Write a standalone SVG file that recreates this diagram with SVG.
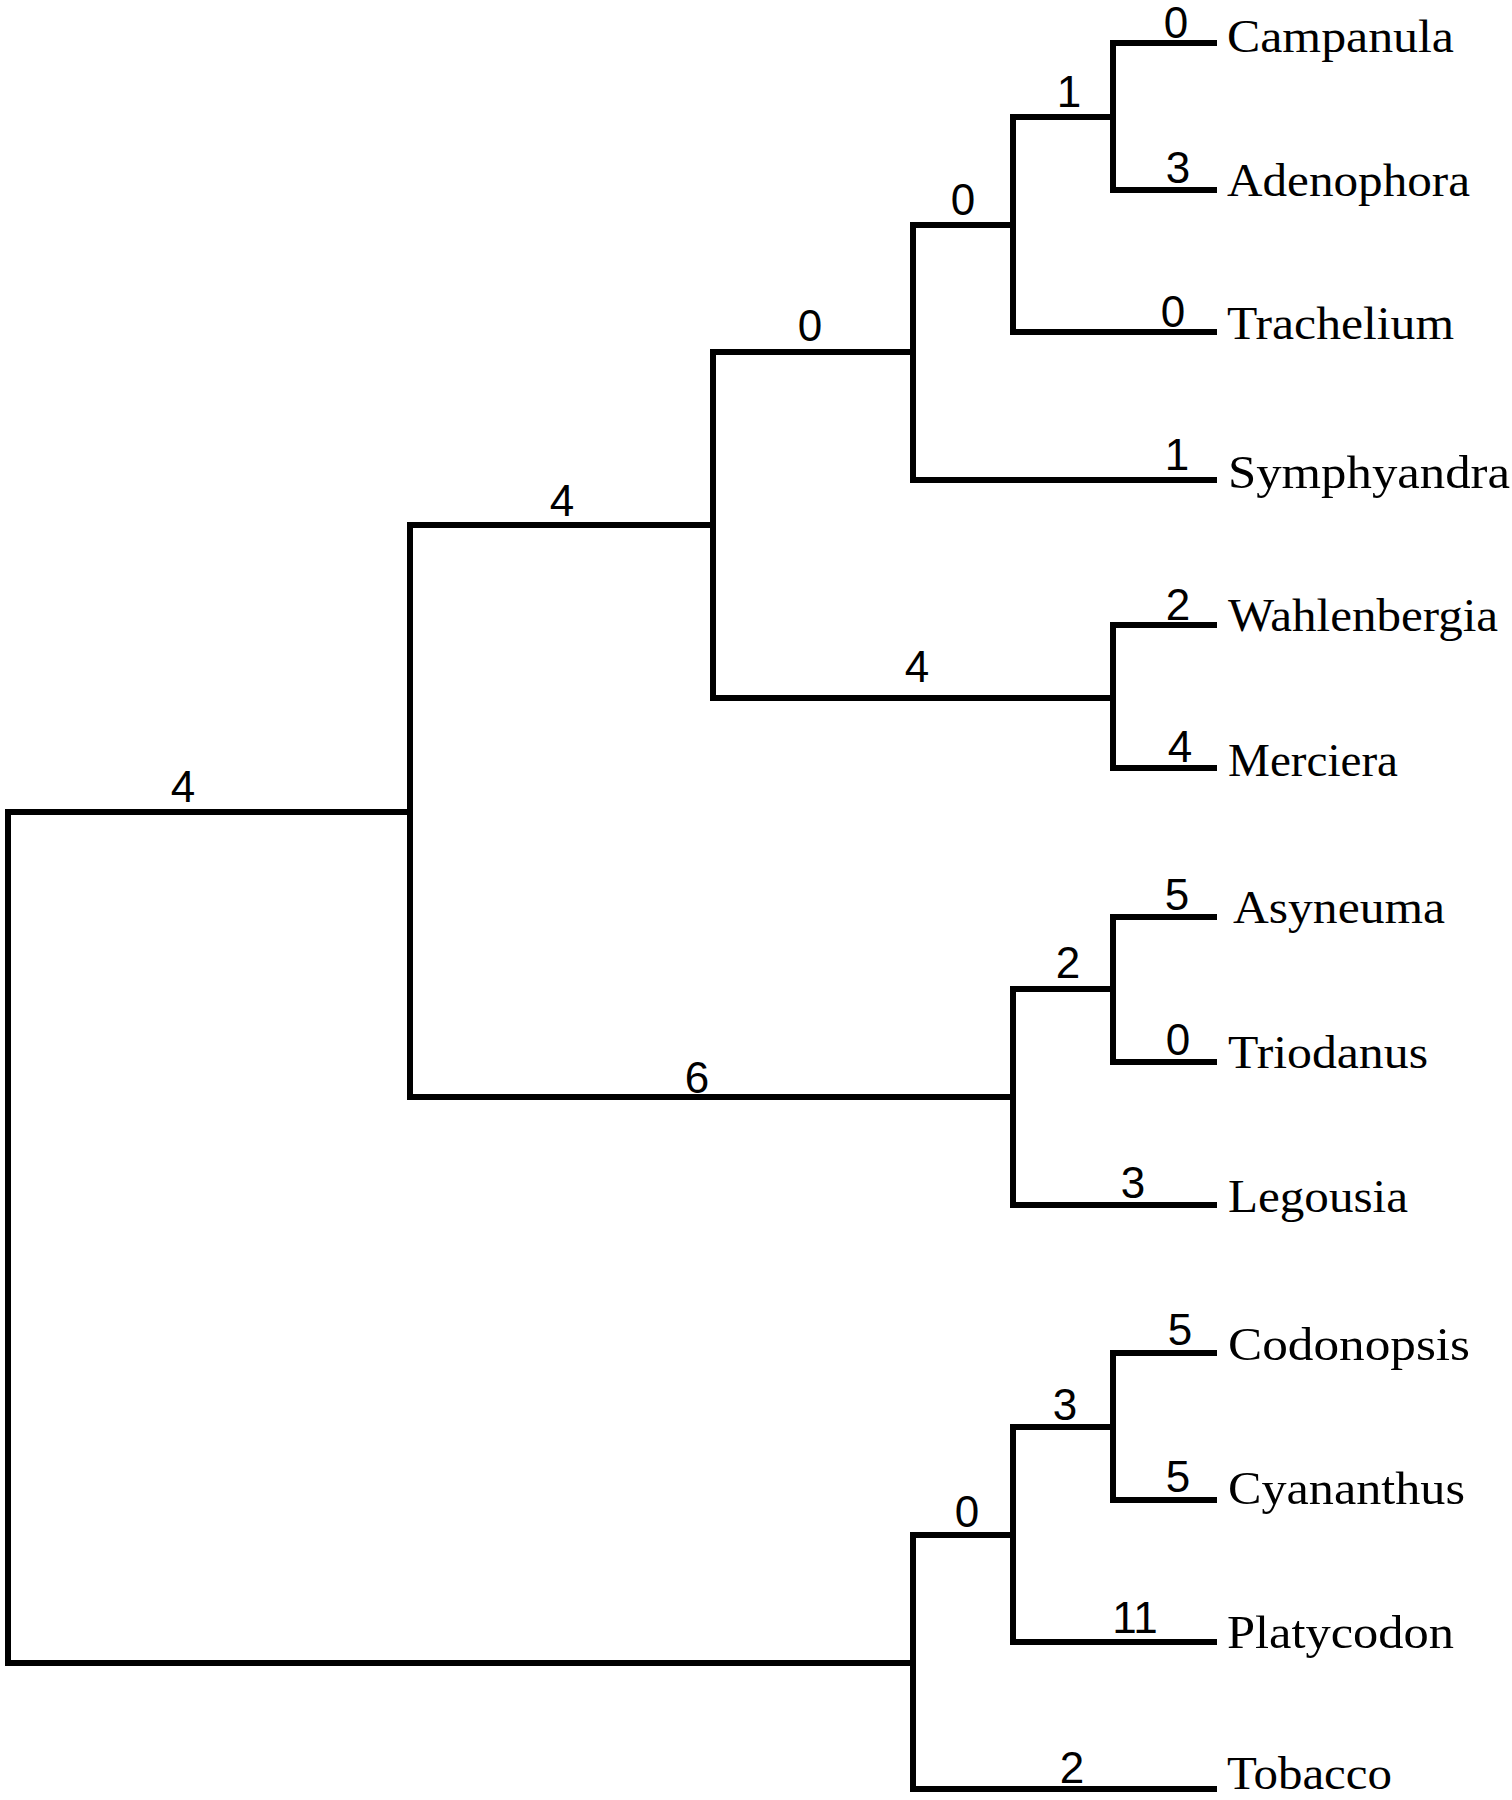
<svg xmlns="http://www.w3.org/2000/svg" width="1512" height="1800" viewBox="0 0 1512 1800">
<style>
.br{fill:none;stroke:#000;stroke-width:6;stroke-linecap:square;stroke-linejoin:miter}
.lf{font-family:"Liberation Serif","Times New Roman",serif;font-size:46px;fill:#000}
.bl{font-family:"Liberation Sans",Arial,sans-serif;font-size:44px;fill:#000;text-anchor:middle}
</style>
<rect width="1512" height="1800" fill="#fff"/>
<g id="connectors">
<path class="br" d="M410,812 H8 V1663 H913"/>
<path class="br" d="M713,525 H410 V1097 H1013"/>
<path class="br" d="M913,352 H713 V698 H1113"/>
<path class="br" d="M1013,225 H913 V480 H1214"/>
<path class="br" d="M1113,117 H1013 V332 H1214"/>
<path class="br" d="M1214,43 H1113 V190 H1214"/>
<path class="br" d="M1214,625 H1113 V768 H1214"/>
<path class="br" d="M1113,989 H1013 V1205 H1214"/>
<path class="br" d="M1214,917 H1113 V1062 H1214"/>
<path class="br" d="M1013,1535 H913 V1789 H1214"/>
<path class="br" d="M1113,1427 H1013 V1642 H1214"/>
<path class="br" d="M1214,1353 H1113 V1500 H1214"/>
</g>
<g id="branch-labels">
<text class="bl" x="183" y="802">4</text>
<text class="bl" x="562" y="516">4</text>
<text class="bl" x="810" y="341">0</text>
<text class="bl" x="963" y="215">0</text>
<text class="bl" x="1069" y="107">1</text>
<text class="bl" x="917" y="682">4</text>
<text class="bl" x="697" y="1093">6</text>
<text class="bl" x="1068" y="978">2</text>
<text class="bl" x="967" y="1527">0</text>
<text class="bl" x="1065" y="1420">3</text>
<text class="bl" x="1176" y="38" font-size="40">0</text>
<text class="bl" x="1178" y="183">3</text>
<text class="bl" x="1173" y="327">0</text>
<text class="bl" x="1177" y="470">1</text>
<text class="bl" x="1178" y="620">2</text>
<text class="bl" x="1180" y="762">4</text>
<text class="bl" x="1177" y="910">5</text>
<text class="bl" x="1178" y="1055">0</text>
<text class="bl" x="1133" y="1198">3</text>
<text class="bl" x="1180" y="1345">5</text>
<text class="bl" x="1178" y="1492">5</text>
<text class="bl" x="1135" y="1633">11</text>
<text class="bl" x="1072" y="1783">2</text>
</g>
<g id="leaf-campanula"><text class="lf" x="1227" y="52" textLength="227" lengthAdjust="spacingAndGlyphs">Campanula</text></g>
<g id="leaf-adenophora"><text class="lf" x="1227" y="196" textLength="243" lengthAdjust="spacingAndGlyphs">Adenophora</text></g>
<g id="leaf-trachelium"><text class="lf" x="1227" y="339" textLength="227" lengthAdjust="spacingAndGlyphs">Trachelium</text></g>
<g id="leaf-symphyandra"><text class="lf" x="1228" y="488" textLength="282" lengthAdjust="spacingAndGlyphs">Symphyandra</text></g>
<g id="leaf-wahlenbergia"><text class="lf" x="1228" y="631" textLength="270" lengthAdjust="spacingAndGlyphs">Wahlenbergia</text></g>
<g id="leaf-merciera"><text class="lf" x="1228" y="776" textLength="170" lengthAdjust="spacingAndGlyphs">Merciera</text></g>
<g id="leaf-asyneuma"><text class="lf" x="1233" y="923" textLength="212" lengthAdjust="spacingAndGlyphs">Asyneuma</text></g>
<g id="leaf-triodanus"><text class="lf" x="1228" y="1068" textLength="200" lengthAdjust="spacingAndGlyphs">Triodanus</text></g>
<g id="leaf-legousia"><text class="lf" x="1228" y="1212" textLength="180" lengthAdjust="spacingAndGlyphs">Legousia</text></g>
<g id="leaf-codonopsis"><text class="lf" x="1228" y="1360" textLength="242" lengthAdjust="spacingAndGlyphs">Codonopsis</text></g>
<g id="leaf-cyananthus"><text class="lf" x="1228" y="1504" textLength="237" lengthAdjust="spacingAndGlyphs">Cyananthus</text></g>
<g id="leaf-platycodon"><text class="lf" x="1227" y="1648" textLength="227" lengthAdjust="spacingAndGlyphs">Platycodon</text></g>
<g id="leaf-tobacco"><text class="lf" x="1227" y="1789" textLength="165" lengthAdjust="spacingAndGlyphs">Tobacco</text></g>
</svg>
